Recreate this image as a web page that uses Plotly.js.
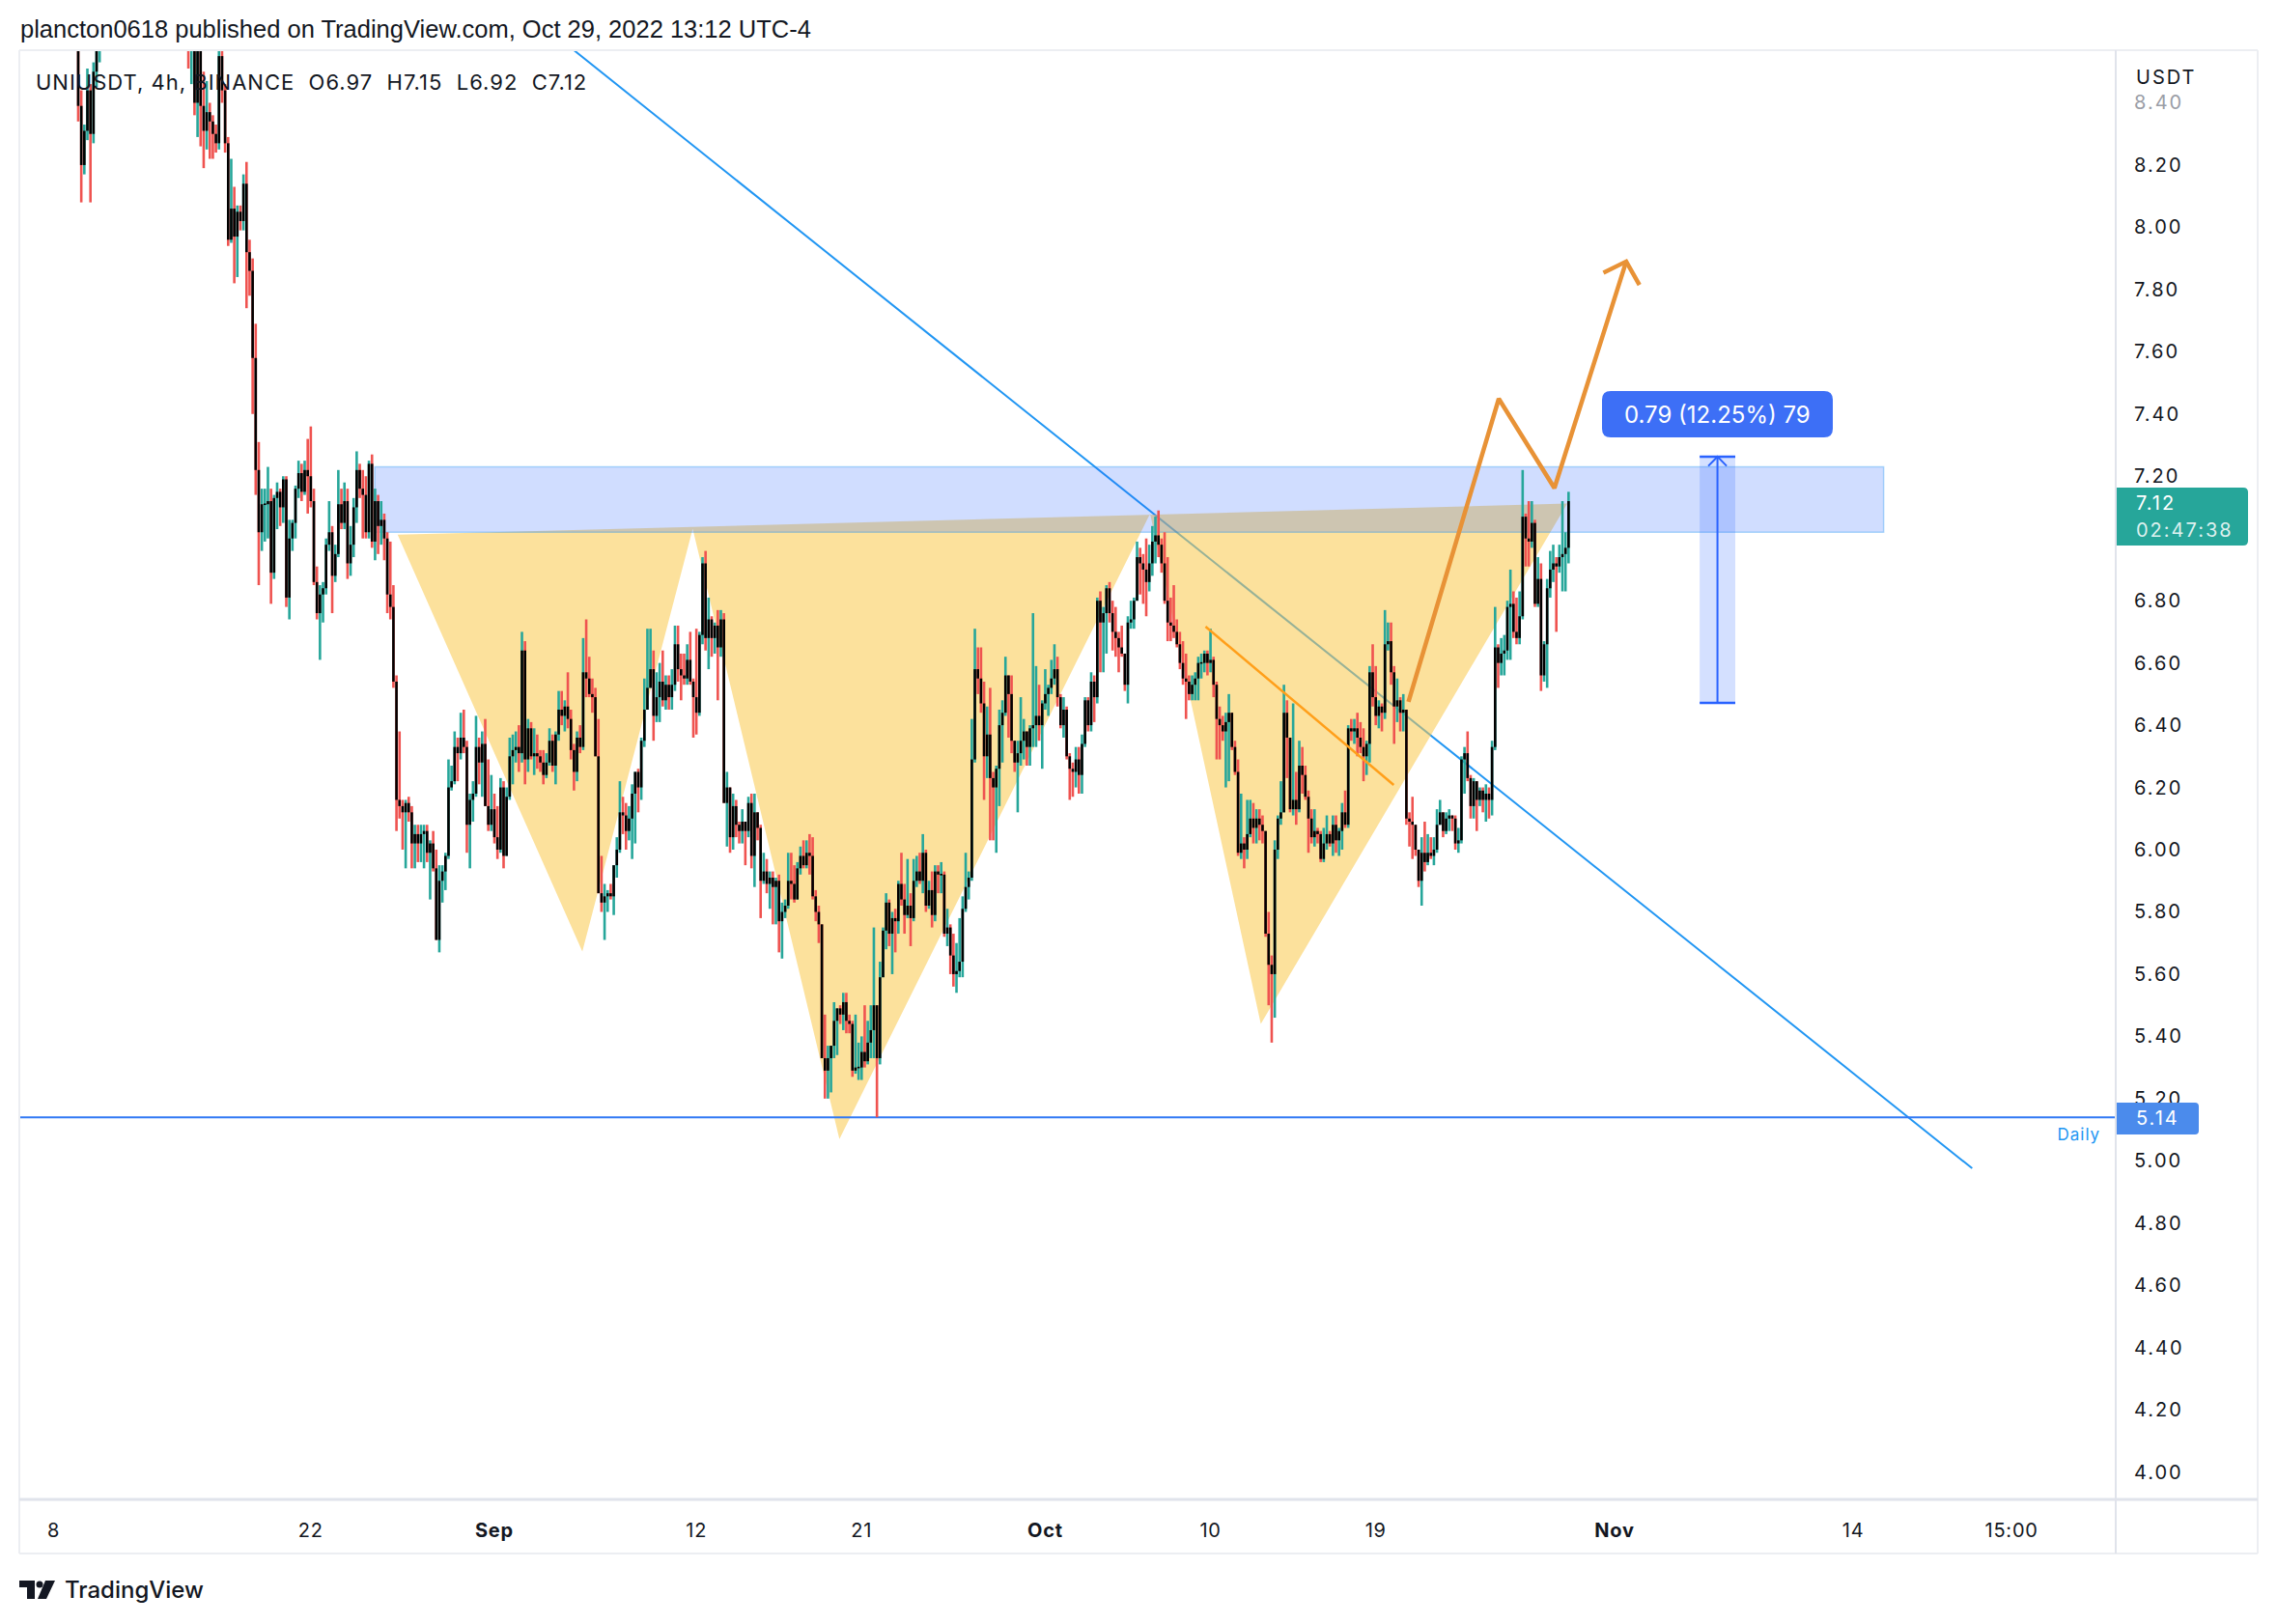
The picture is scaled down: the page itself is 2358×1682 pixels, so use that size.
<!DOCTYPE html>
<html><head><meta charset="utf-8">
<script src="https://cdn.plot.ly/plotly-3.0.1.min.js"></script>
<style>html,body{margin:0;padding:0;background:#fff;}#chart{width:2358px;height:1682px;}
.ytick text{letter-spacing:2px;}
.xtick text{letter-spacing:0.8px;}
</style>
</head><body><div id="chart"></div>
<script>
// ---------------- DATA (UNIUSDT 4h, Binance) ----------------
const firstOpen = 8.70;
const lastBar = '2022-10-29 12:00';   // last 4h candle (UTC-4)
const closes = [
8.78,8.82,8.75,8.80,8.86,8.90,8.84,8.88,8.95,9.02,
9.08,9.00,8.96,9.05,9.12,9.06,8.98,8.90,8.80,8.39,
8.20,8.31,8.44,8.30,8.50,8.62,8.75,8.80,8.86,8.92,
8.98,9.05,9.10,9.02,9.08,9.15,9.22,9.30,9.25,9.18,
9.26,9.35,9.42,9.38,9.30,9.36,9.45,9.50,9.42,9.34,
9.26,9.18,9.05,8.95,8.85,8.70,8.78,8.40,8.62,8.39,
8.31,8.37,8.34,8.30,8.27,8.55,8.44,8.27,7.96,8.06,
7.97,8.05,8.02,8.14,7.92,7.86,7.58,7.22,7.02,7.11,
7.11,7.12,6.89,7.13,7.15,7.10,7.19,6.81,7.00,7.05,
7.16,7.21,7.15,7.22,7.20,7.12,6.86,6.76,6.82,6.84,
6.98,7.02,6.88,6.95,7.11,7.05,7.12,6.92,6.98,7.10,
7.22,7.16,7.14,7.02,7.24,6.99,7.12,7.04,7.06,7.00,
6.82,6.78,6.54,6.16,6.14,6.12,6.15,6.12,6.02,6.05,
6.02,6.05,6.06,5.99,6.02,5.94,5.71,5.90,5.93,5.98,
6.20,6.22,6.33,6.31,6.36,6.33,6.08,6.16,6.18,6.33,
6.28,6.34,6.14,6.08,6.13,6.04,6.00,6.20,5.98,6.17,
6.30,6.32,6.33,6.31,6.64,6.29,6.39,6.30,6.31,6.30,
6.28,6.24,6.28,6.35,6.27,6.37,6.45,6.43,6.46,6.42,
6.32,6.25,6.36,6.33,6.57,6.55,6.50,6.49,6.30,5.86,
5.83,5.85,5.86,5.85,5.95,6.00,6.12,6.11,6.06,6.10,
6.18,6.25,6.20,6.35,6.45,6.52,6.58,6.43,6.49,6.54,
6.48,6.53,6.49,6.53,6.66,6.58,6.56,6.55,6.61,6.54,
6.49,6.44,6.69,6.92,6.68,6.74,6.68,6.72,6.65,6.74,
6.15,6.20,6.04,6.14,6.08,6.06,6.09,6.06,6.15,5.98,
6.12,6.07,5.90,5.93,5.89,5.91,5.88,5.90,5.77,5.80,
5.82,5.90,5.89,5.84,5.94,5.98,5.95,5.99,5.98,5.85,
5.80,5.76,5.33,5.29,5.33,5.37,5.45,5.49,5.47,5.51,
5.45,5.44,5.29,5.30,5.30,5.35,5.32,5.38,5.42,5.50,
5.33,5.59,5.74,5.83,5.73,5.78,5.77,5.89,5.84,5.79,
5.82,5.78,5.90,5.93,5.90,5.99,5.82,5.87,5.79,5.93,
5.92,5.92,5.73,5.75,5.66,5.60,5.61,5.64,5.81,5.88,
5.91,6.29,6.58,6.55,6.47,6.30,6.37,6.23,6.20,6.26,
6.40,6.44,6.56,6.50,6.35,6.28,6.31,6.35,6.38,6.33,
6.39,6.40,6.43,6.40,6.47,6.50,6.52,6.55,6.58,6.49,
6.40,6.45,6.30,6.26,6.25,6.29,6.24,6.34,6.48,6.40,
6.54,6.49,6.80,6.73,6.76,6.84,6.76,6.70,6.68,6.65,
6.63,6.53,6.73,6.74,6.80,6.94,6.92,6.90,6.86,6.92,
6.99,7.01,6.98,6.92,6.80,6.73,6.72,6.70,6.66,6.60,
6.55,6.54,6.50,6.53,6.55,6.60,6.60,6.63,6.60,6.61,
6.53,6.42,6.40,6.38,6.41,6.44,6.33,6.25,5.99,6.02,
6.00,6.05,6.10,6.07,6.10,6.08,6.06,5.73,5.63,5.60,
6.00,6.10,6.12,6.44,6.36,6.13,6.16,6.13,6.27,6.24,
6.17,6.10,6.04,6.06,6.05,5.97,6.02,6.05,6.02,6.08,
6.03,6.06,6.12,6.08,6.39,6.38,6.39,6.36,6.33,6.30,
6.34,6.57,6.49,6.43,6.46,6.44,6.66,6.67,6.57,6.46,
6.48,6.44,6.45,6.10,6.09,6.08,6.00,5.90,5.99,5.96,
5.99,5.98,6.00,6.08,6.12,6.06,6.10,6.11,6.10,6.02,
6.03,6.29,6.31,6.23,6.14,6.22,6.16,6.19,6.16,6.18,
6.16,6.33,6.65,6.60,6.63,6.64,6.78,6.79,6.70,6.68,
6.75,7.07,7.00,6.99,7.05,6.79,6.87,6.56,6.66,6.84,
6.90,6.92,6.91,6.94,6.95,6.97,7.12];
const highs = [
8.84,8.88,8.85,8.83,8.92,8.96,8.93,8.91,9.00,9.08,
9.14,9.10,9.04,9.09,9.18,9.15,9.08,9.00,8.93,8.82,
8.44,8.33,8.51,8.46,8.53,8.70,8.85,8.86,8.91,8.98,
9.04,9.11,9.16,9.14,9.12,9.21,9.28,9.37,9.34,9.29,
9.31,9.41,9.49,9.46,9.41,9.40,9.52,9.58,9.54,9.46,
9.38,9.30,9.22,9.09,8.99,8.90,8.85,8.80,8.70,8.66,
8.50,8.47,8.40,8.36,8.33,8.65,8.62,8.46,8.29,8.22,
8.13,8.07,8.07,8.17,8.21,7.96,7.90,7.69,7.31,7.16,
7.16,7.23,7.16,7.14,7.18,7.16,7.20,7.20,7.06,7.06,
7.17,7.25,7.24,7.25,7.32,7.36,7.16,6.91,6.85,6.86,
7.00,7.12,7.04,6.98,7.22,7.16,7.18,7.16,7.04,7.13,
7.28,7.24,7.22,7.20,7.25,7.27,7.16,7.14,7.12,7.08,
7.02,6.99,6.85,6.56,6.38,6.16,6.16,6.17,6.14,6.08,
6.08,6.08,6.08,6.08,6.03,6.06,6.00,5.95,5.95,5.99,
6.29,6.27,6.38,6.36,6.44,6.45,6.35,6.18,6.22,6.43,
6.36,6.38,6.42,6.29,6.24,6.18,6.14,6.23,6.22,6.20,
6.36,6.37,6.38,6.40,6.70,6.67,6.42,6.41,6.39,6.37,
6.32,6.32,6.31,6.39,6.37,6.38,6.51,6.51,6.48,6.57,
6.45,6.34,6.38,6.40,6.68,6.74,6.62,6.55,6.52,6.42,
5.98,5.89,5.87,5.89,5.95,6.04,6.22,6.17,6.15,6.14,
6.21,6.25,6.26,6.36,6.55,6.71,6.71,6.64,6.57,6.60,
6.64,6.56,6.56,6.58,6.72,6.72,6.63,6.63,6.66,6.70,
6.55,6.71,6.70,6.94,6.96,6.81,6.75,6.73,6.77,6.77,
6.76,6.25,6.20,6.18,6.16,6.09,6.13,6.09,6.17,6.18,
6.18,6.12,6.08,5.99,5.97,5.93,5.93,5.91,5.92,5.83,
5.84,5.99,5.99,5.95,5.96,6.01,6.03,6.03,6.05,6.04,
5.87,5.82,5.76,5.47,5.37,5.37,5.51,5.49,5.50,5.54,
5.54,5.47,5.45,5.47,5.38,5.40,5.50,5.45,5.50,5.75,
5.50,5.64,5.75,5.86,5.84,5.80,5.81,5.90,5.99,5.89,
5.97,5.86,5.97,5.98,5.99,6.05,6.00,5.90,5.93,5.95,
5.95,5.96,5.93,5.81,5.76,5.73,5.70,5.78,5.85,5.99,
5.93,6.42,6.71,6.65,6.65,6.54,6.46,6.52,6.25,6.27,
6.45,6.48,6.62,6.56,6.56,6.35,6.35,6.49,6.42,6.38,
6.40,6.76,6.59,6.53,6.48,6.58,6.53,6.61,6.66,6.62,
6.50,6.49,6.46,6.31,6.28,6.33,6.33,6.37,6.49,6.49,
6.57,6.56,6.81,6.83,6.78,6.85,6.86,6.80,6.78,6.70,
6.72,6.63,6.75,6.80,6.81,6.99,6.97,6.95,7.00,6.98,
7.04,7.07,7.09,7.00,7.02,6.94,6.81,6.85,6.74,6.70,
6.67,6.63,6.56,6.56,6.57,6.62,6.63,6.64,6.64,6.71,
6.62,6.54,6.46,6.43,6.44,6.50,6.44,6.35,6.29,6.18,
6.04,6.16,6.16,6.15,6.13,6.13,6.11,6.06,5.80,5.66,
6.03,6.11,6.22,6.53,6.48,6.36,6.47,6.25,6.35,6.33,
6.27,6.19,6.13,6.13,6.07,6.06,6.07,6.11,6.06,6.11,
6.11,6.07,6.15,6.19,6.40,6.42,6.42,6.44,6.41,6.39,
6.35,6.59,6.66,6.59,6.48,6.47,6.77,6.73,6.73,6.59,
6.55,6.49,6.50,6.45,6.12,6.17,6.08,6.00,6.04,6.09,
6.05,6.04,6.04,6.13,6.16,6.12,6.12,6.13,6.11,6.11,
6.07,6.30,6.33,6.38,6.24,6.23,6.22,6.20,6.20,6.21,
6.20,6.35,6.78,6.66,6.68,6.69,6.80,6.90,6.83,6.81,
6.83,7.22,7.08,7.12,7.12,7.06,6.94,6.92,6.67,6.87,
6.96,6.98,6.94,6.98,7.12,7.02,7.15];
const lows = [
8.66,8.74,8.70,8.71,8.77,8.82,8.79,8.80,8.85,8.92,
8.98,8.94,8.88,8.93,9.01,9.00,8.90,8.82,8.72,8.34,
8.08,8.17,8.28,8.08,8.27,8.45,8.53,8.70,8.76,8.83,
8.88,8.94,9.00,8.96,8.98,9.04,9.11,9.18,9.17,9.10,
9.14,9.22,9.30,9.31,9.22,9.25,9.33,9.40,9.36,9.27,
9.18,9.10,8.98,8.86,8.74,8.51,8.46,8.36,8.29,8.26,
8.19,8.25,8.22,8.22,8.24,8.25,8.40,8.24,7.94,7.95,
7.82,7.84,7.99,7.99,7.74,7.78,7.40,7.14,6.85,6.96,
6.99,7.00,6.79,6.87,7.03,7.04,7.05,6.78,6.74,6.96,
7.00,7.13,7.12,7.14,7.08,7.10,6.85,6.74,6.61,6.73,
6.82,6.96,6.76,6.86,6.94,7.03,7.03,6.87,6.88,6.94,
7.05,7.13,7.00,7.00,7.00,6.97,6.93,6.95,6.98,6.93,
6.76,6.74,6.52,6.06,6.10,6.00,5.94,6.09,5.94,5.94,
5.96,5.96,5.94,5.96,5.84,5.93,5.71,5.67,5.83,5.87,
5.97,6.19,6.21,6.22,6.29,6.31,5.99,5.94,6.09,6.17,
6.21,6.17,6.14,6.06,6.06,6.02,5.97,5.99,5.94,5.98,
6.16,6.21,6.28,6.25,6.28,6.21,6.25,6.29,6.24,6.26,
6.25,6.21,6.23,6.27,6.25,6.21,6.35,6.40,6.38,6.39,
6.29,6.19,6.22,6.31,6.32,6.49,6.49,6.44,6.30,5.86,
5.80,5.71,5.80,5.84,5.79,5.91,5.99,6.05,6.00,6.03,
5.97,6.02,6.12,6.16,6.33,6.45,6.52,6.35,6.41,6.41,
6.46,6.45,6.45,6.45,6.51,6.54,6.48,6.53,6.53,6.53,
6.36,6.37,6.43,6.66,6.64,6.58,6.62,6.63,6.48,6.62,
6.15,6.01,5.99,6.00,6.04,6.02,6.02,5.95,6.04,5.94,
5.88,6.03,5.78,5.89,5.86,5.81,5.76,5.76,5.67,5.65,
5.78,5.81,5.84,5.83,5.84,5.92,5.94,5.94,5.92,5.84,
5.77,5.70,5.33,5.20,5.20,5.22,5.33,5.34,5.44,5.42,
5.41,5.41,5.27,5.28,5.26,5.26,5.30,5.31,5.33,5.33,
5.14,5.31,5.59,5.68,5.69,5.60,5.67,5.73,5.82,5.73,
5.78,5.69,5.77,5.88,5.89,5.86,5.80,5.81,5.75,5.77,
5.86,5.86,5.72,5.69,5.60,5.56,5.54,5.59,5.59,5.80,
5.84,5.90,6.28,6.50,6.44,6.16,6.23,6.03,6.03,5.99,
6.14,6.28,6.43,6.36,6.31,6.25,6.12,6.27,6.29,6.27,
6.27,6.33,6.33,6.35,6.26,6.45,6.43,6.50,6.53,6.46,
6.39,6.36,6.29,6.16,6.17,6.20,6.18,6.18,6.33,6.38,
6.38,6.41,6.47,6.57,6.57,6.63,6.73,6.64,6.62,6.57,
6.62,6.51,6.47,6.71,6.71,6.80,6.82,6.79,6.75,6.83,
6.88,6.92,6.94,6.89,6.79,6.67,6.67,6.68,6.65,6.58,
6.53,6.42,6.48,6.48,6.48,6.48,6.55,6.57,6.56,6.57,
6.49,6.29,6.29,6.35,6.20,6.22,6.32,6.24,5.98,5.97,
5.94,5.97,6.04,6.02,6.02,6.03,6.02,5.72,5.50,5.38,
5.46,5.97,6.08,6.12,6.23,6.12,6.11,6.08,6.12,6.18,
6.16,5.99,6.02,6.01,6.02,5.96,5.96,6.00,6.01,5.98,
5.99,5.98,6.00,6.07,6.07,6.35,6.34,6.30,6.31,6.22,
6.24,6.28,6.46,6.40,6.39,6.38,6.42,6.64,6.53,6.34,
6.41,6.38,6.38,6.08,6.01,5.97,5.98,5.88,5.82,5.93,
5.95,5.97,5.95,5.99,6.08,6.04,6.05,6.06,6.06,6.00,
5.99,6.02,6.18,6.22,6.10,6.10,6.06,6.14,6.12,6.09,
6.10,6.11,6.32,6.52,6.56,6.56,6.61,6.61,6.68,6.66,
6.66,6.74,6.91,6.91,6.97,6.78,6.78,6.51,6.54,6.52,
6.81,6.86,6.70,6.89,6.83,6.83,6.92];

// tick labels (7.00 sits under the last-price label, as in the reference)
const xTickDates = ['2022-08-08','2022-08-22','2022-09-01','2022-09-12','2022-09-21','2022-10-01','2022-10-10','2022-10-19','2022-11-01','2022-11-14','2022-11-22 15:00'];
const xTickLabels = ['8','22','<b>Sep</b>','12','21','<b>Oct</b>','10','19','<b>Nov</b>','14','15:00'];
const yTickLabels = ['4.00','4.20','4.40','4.60','4.80','5.00','5.20','5.40','5.60','5.80','6.00','6.20','6.40','6.60','6.80','7.20','7.40','7.60','7.80','8.00','8.20','8.40'];

// drawings: x in days after 2022-08-08 00:00, y in price
const hsDays   = [18.73, 28.79, 34.80, 42.79, 59.71, 65.74, 82.43];   // head & shoulders
const hsPrices = [7.012, 5.673, 7.031, 5.070, 7.080, 5.440, 7.112];
const trendDays = [20.0, 104.48], trendPrices = [8.962, 4.976];
const supportLevel = 5.14;
const zoneDays = [17.48, 99.66], zonePrices = [7.020, 7.230];
const pathDays = [73.78, 78.70, 81.73, 85.64], pathPrices = [6.475, 7.449, 7.162, 7.890];
const headDays = [84.40, 85.64, 86.36], headPrices = [7.854, 7.890, 7.815];
const thinDays = [62.73, 72.98], thinPrices = [6.717, 6.208];
const measureDays = [89.64, 91.58], measurePrices = [6.472, 7.263];
const measureText = '0.79 (12.25%) 79';
const lastPriceText = '7.12', countdownText = '02:47:38';

// ---------------- BUILD ----------------
const T0 = Date.UTC(2022,7,8);
function dstr(ms){ return new Date(ms).toISOString().slice(0,16).replace('T',' '); }
function day(d){ return dstr(T0 + d*86400000); }
const N = closes.length;
const endMs = Date.parse(lastBar.replace(' ','T')+':00Z');
const times = closes.map((_,i)=> dstr(endMs - (N-1-i)*4*3600000));
const opens = closes.map((c,i)=> i===0 ? firstOpen : closes[i-1]);

const wu = {x:[],y:[]}, wd = {x:[],y:[]}, bd = {x:[],y:[]};
for (let i=0;i<N;i++){
  const o=opens[i], c=closes[i];
  const h=Math.max(highs[i],o,c), l=Math.min(lows[i],o,c);
  const w = c>=o ? wu : wd;
  w.x.push(times[i],times[i],null); w.y.push(l,h,null);
  let b0=Math.min(o,c), b1=Math.max(o,c);
  if (b1-b0<0.005){ const m=(b0+b1)/2; b0=m-0.0025; b1=m+0.0025; }
  bd.x.push(times[i],times[i],null); bd.y.push(b0,b1,null);
}
const XMIN = day(-1.874), XMAX = day(112.30);
const ln = (x,y,color,width,extra)=>Object.assign({type:'scatter',mode:'lines',x,y,line:{color,width},hoverinfo:'skip'},extra||{});
const mc = (measureDays[0]+measureDays[1])/2;

const traces = [
  ln(trendDays.map(day), trendPrices, '#2196f3', 2),
  {type:'scatter',mode:'lines',x:hsDays.concat([hsDays[0]]).map(day),y:hsPrices.concat([hsPrices[0]]),fill:'toself',fillcolor:'rgba(249,200,75,0.55)',line:{width:0},hoverinfo:'skip'},
  {type:'scatter',mode:'lines',x:[zoneDays[0],zoneDays[1],zoneDays[1],zoneDays[0],zoneDays[0]].map(day),y:[zonePrices[0],zonePrices[0],zonePrices[1],zonePrices[1],zonePrices[0]],fill:'toself',fillcolor:'rgba(41,98,255,0.22)',line:{color:'rgba(33,150,243,0.35)',width:1.5},hoverinfo:'skip'},
  ln([XMIN,XMAX],[supportLevel,supportLevel],'#3179f5',2),
  ln(wu.x,wu.y,'#26a69a',2.6,{connectgaps:false}),
  ln(wd.x,wd.y,'#ef5350',2.6,{connectgaps:false}),
  ln(bd.x,bd.y,'#000000',2.6,{connectgaps:false}),
  ln(thinDays.map(day), thinPrices, '#ff9f1a', 2.5),
  ln(pathDays.map(day), pathPrices, '#e89236', 4.5),
  ln(headDays.map(day), headPrices, '#e89236', 4.5),
  {type:'scatter',mode:'lines',x:[measureDays[0],measureDays[1],measureDays[1],measureDays[0],measureDays[0]].map(day),y:[measurePrices[0],measurePrices[0],measurePrices[1],measurePrices[1],measurePrices[0]],fill:'toself',fillcolor:'rgba(41,98,255,0.2)',line:{width:0},hoverinfo:'skip'},
  ln(measureDays.map(day),[measurePrices[0],measurePrices[0]],'#2962ff',2.5),
  ln(measureDays.map(day),[measurePrices[1],measurePrices[1]],'#2962ff',2.5),
  ln([day(mc),day(mc)],measurePrices,'#2962ff',2),
  ln([day(mc-0.5),day(mc),day(mc+0.5)],[measurePrices[1]-0.03,measurePrices[1],measurePrices[1]-0.03],'#2962ff',2)
];

// pixel -> paper helpers (plot area X 20..2191, Y 52..1553)
const PX = X => (X-20)/2171, PY = Y => (1553-Y)/1501;
function rrect(x0,y0,x1,y1,r,fill,rl,rr){
  const a=rl?r:0,b=rr?r:0;
  const p=`M${PX(x0+a)},${PY(y0)} L${PX(x1-b)},${PY(y0)} Q${PX(x1)},${PY(y0)} ${PX(x1)},${PY(y0+b)} L${PX(x1)},${PY(y1-b)} Q${PX(x1)},${PY(y1)} ${PX(x1-b)},${PY(y1)} L${PX(x0+a)},${PY(y1)} Q${PX(x0)},${PY(y1)} ${PX(x0)},${PY(y1-a)} L${PX(x0)},${PY(y0+a)} Q${PX(x0)},${PY(y0)} ${PX(x0+a)},${PY(y0)} Z`;
  return {type:'path',xref:'paper',yref:'paper',path:p,fillcolor:fill,line:{width:0},layer:'above'};
}
function pline(x0,y0,x1,y1,color,width){ return {type:'line',xref:'paper',yref:'paper',x0:PX(x0),y0:PY(y0),x1:PX(x1),y1:PY(y1),line:{color,width},layer:'above'}; }
function ppoly(pts,fill){ return {type:'path',xref:'paper',yref:'paper',path:'M'+pts.map(p=>PX(p[0])+','+PY(p[1])).join(' L')+' Z',fillcolor:fill,line:{width:0},layer:'above'}; }

const shapes = [
  pline(20,52,2338,52,'#eceef2',2),
  pline(20,52,20,1609,'#eceef2',2),
  pline(2338,52,2338,1609,'#eceef2',2),
  pline(20,1609,2338,1609,'#eceef2',2),
  pline(2191,52,2191,1609,'#e0e3eb',2),
  pline(20,1553,2338,1553,'#e0e3eb',3),
  rrect(2192,505,2328,565,5,'#26a69a',false,true),
  rrect(2192,1142,2277,1175,4,'#4b8bec',false,true),
  rrect(1659,405,1898,453,9,'#3d6ff6',true,true),
  ppoly([[20,1637],[36,1637],[36,1656],[28,1656],[28,1644],[20,1644]],'#131722'),
  {type:'circle',xref:'paper',yref:'paper',x0:PX(37.5),y0:PY(1637.5),x1:PX(44.5),y1:PY(1644.5),fillcolor:'#131722',line:{width:0},layer:'above'},
  ppoly([[47,1637],[57,1637],[48,1656],[39,1656]],'#131722')
];

const F = 'Inter, "Noto Sans", sans-serif';
function ann(text,X,Y,o){ o=o||{}; return {xref:'paper',yref:'paper',x:PX(X),y:PY(Y),text,showarrow:false,xanchor:o.xa||'left',yanchor:'middle',borderpad:0,bgcolor:o.bg,font:{family:o.family||F,size:o.size||20,color:o.color||'#131722',weight:o.weight}}; }
const annotations = [
  ann('plancton0618 published on TradingView.com, Oct 29, 2022 13:12 UTC-4',20,30,{size:25.5,family:'"Liberation Sans", Arial, sans-serif'}),
  ann('UNIUSDT, 4h, BINANCE\u00a0\u00a0O6.97\u00a0\u00a0H7.15\u00a0\u00a0L6.92\u00a0\u00a0C7.12',36,85,{size:22}),
  ann('USDT',2211,80,{size:20,bg:'#ffffff'}),
  ann(lastPriceText,2211,521,{size:20,color:'#ffffff'}),
  ann(countdownText,2211,549,{size:20,color:'rgba(255,255,255,0.85)'}),
  ann(supportLevel.toFixed(2),2211,1158,{size:20,color:'#ffffff'}),
  ann('Daily',2176,1175,{size:17,color:'#2196f3',xa:'right'}),
  ann(measureText,1778.5,429,{size:24,color:'#ffffff',xa:'center'}),
  ann('TradingView',66,1646,{size:24,weight:500})
];
// extra letter spacing per annotation (index -> [px, anchor side]) to mimic the price-scale typography
const annSpacing = {1:[1,'left'], 2:[2,'left'], 3:[2,'left'], 4:[2,'left'], 5:[2,'left'], 6:[1,'right']};

const layout = {
  width:2358,height:1682,margin:{l:20,r:167,t:52,b:129,pad:0},
  paper_bgcolor:'#ffffff',plot_bgcolor:'#ffffff',showlegend:false,
  xaxis:{type:'date',range:[XMIN,XMAX],tickmode:'array',tickvals:xTickDates,ticktext:xTickLabels,
    showgrid:false,zeroline:false,showline:false,ticks:'',tickfont:{family:F,size:20,color:'#131722'},ticklabelstandoff:18,fixedrange:true},
  yaxis:{side:'right',range:[3.912,8.569],tickmode:'array',tickvals:yTickLabels.map(Number),ticktext:yTickLabels,
    showgrid:false,zeroline:false,showline:false,ticks:'',tickfont:{family:F,size:20,color:'#131722'},ticklabelstandoff:18,fixedrange:true},
  shapes,annotations
};
Plotly.newPlot('chart',traces,layout,{displayModeBar:false,staticPlot:true}).then(gd=>{
  const groups = gd.querySelectorAll('g.annotation');
  groups.forEach((g,i)=>{
    const s = annSpacing[i];
    if (!s) return;
    const t = g.querySelector('text'); if (!t) return;
    const before = t.getBBox();
    t.style.letterSpacing = s[0]+'px';
    const after = t.getBBox();
    // keep the anchored edge in place (text is centred in its box by Plotly)
    const dx = s[1]==='left' ? before.x - after.x : (before.x+before.width) - (after.x+after.width);
    const cur = t.getAttribute('transform') || '';
    t.setAttribute('transform', cur + ` translate(${dx},0)`);
  });
  gd.querySelectorAll('.ytick text').forEach(t=>{ if(t.textContent==='8.40') t.style.fill='#9a9da6'; });
});
</script></body></html>
